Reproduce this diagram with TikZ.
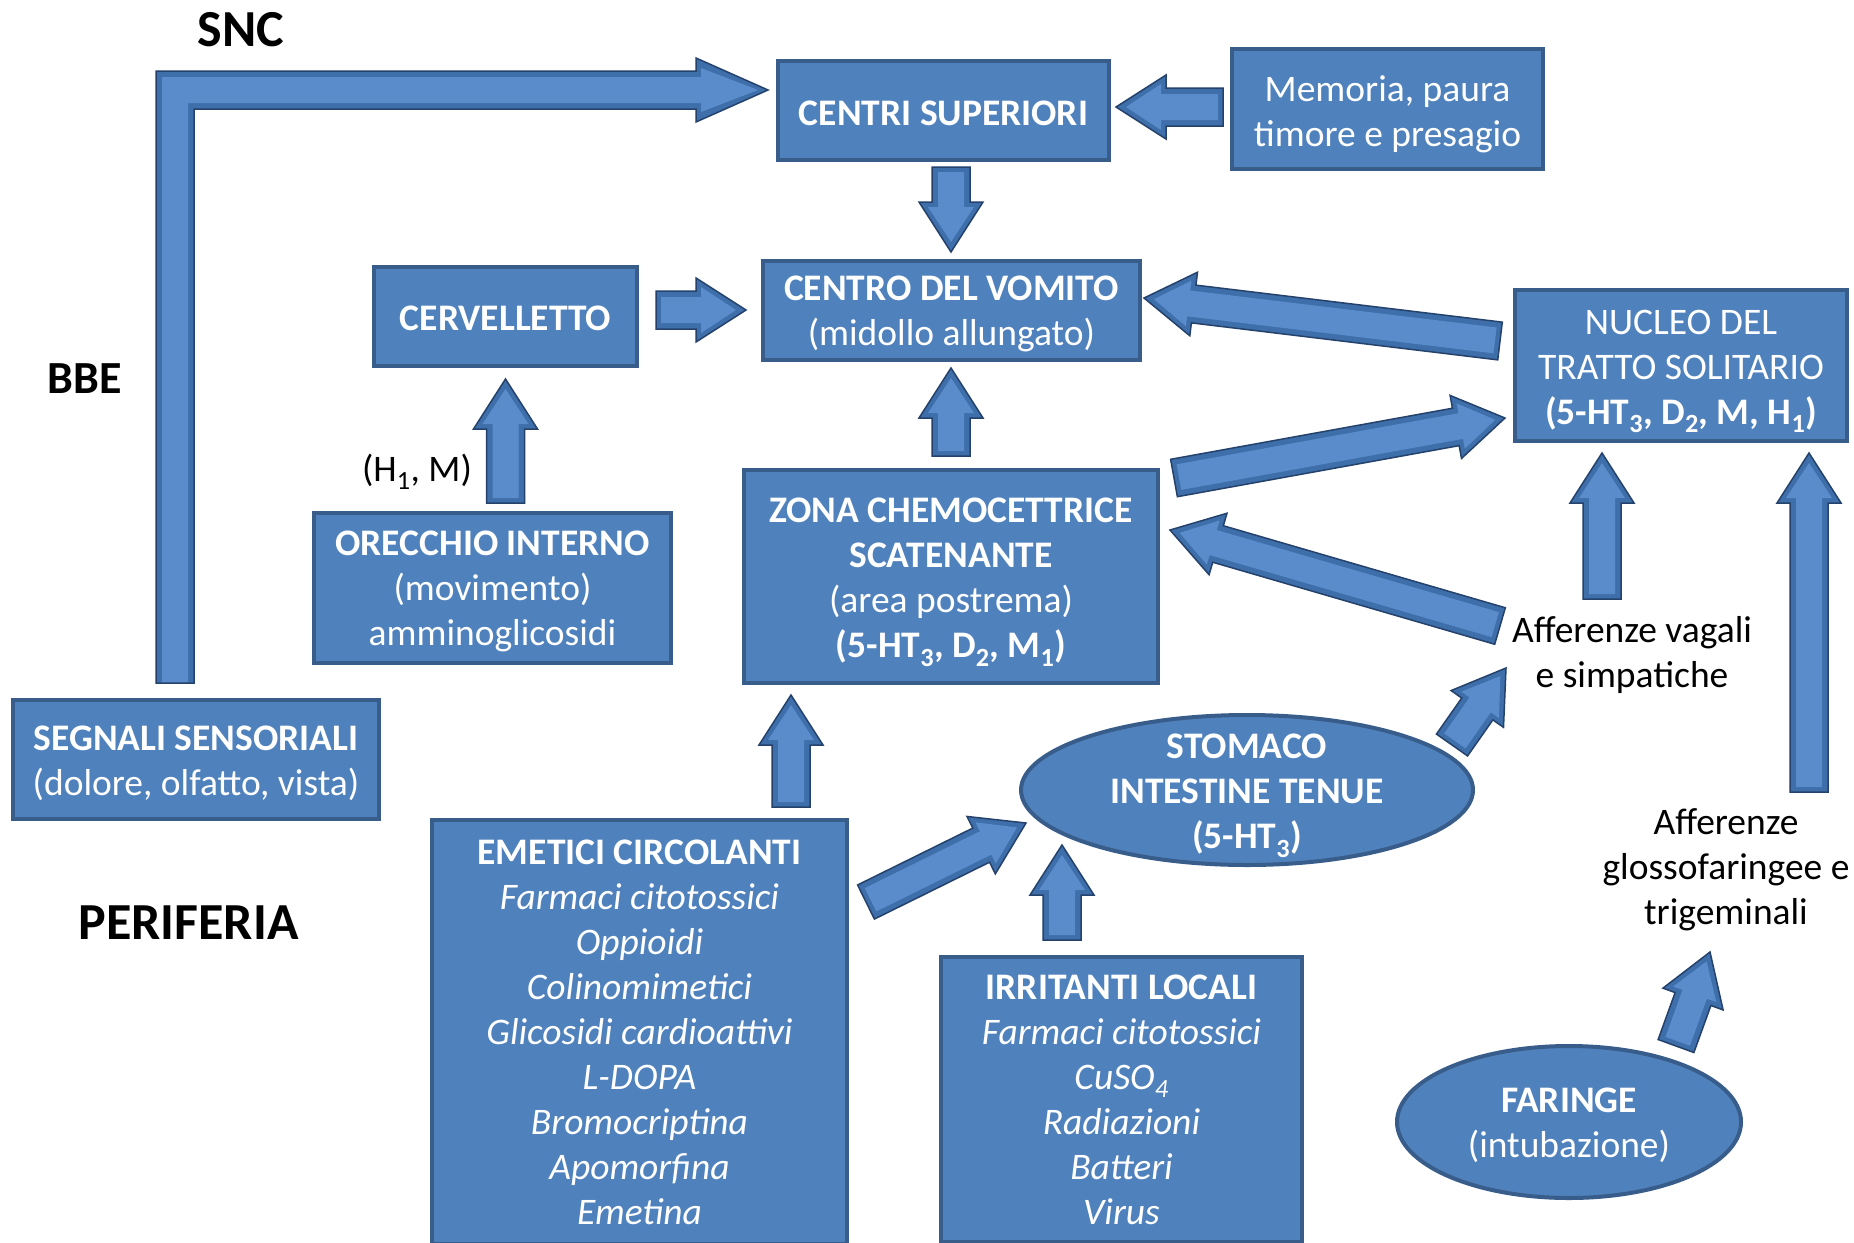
\documentclass[tikz,border=0pt]{standalone}
\usepackage{fontspec}
\setmainfont{Carlito}
\usetikzlibrary{calc}
\definecolor{boxfill}{HTML}{4F81BD}
\definecolor{boxedge}{HTML}{385D8A}
\definecolor{arrfill}{HTML}{3F6FAA}
\definecolor{arrin}{HTML}{5A8CCC}
\definecolor{arredge}{HTML}{24426B}
\newcommand\bx{\fontsize{37.5}{45}\selectfont}
\newcommand\sub[1]{\textsubscript{#1}}
\tikzset{
  box/.style={draw=boxedge, fill=boxfill, line width=4pt, inner sep=0pt},
  ell/.style={draw=boxedge, fill=boxfill, line width=4pt},
  wtxt/.style={text=white, align=center, inner sep=0pt, font=\bx},
  lbl/.style={text=black, align=center, inner sep=0pt, font=\bx},
  big/.style={text=black, inner sep=0pt, font=\fontsize{52}{60}\selectfont\bfseries},
}
\newcommand\blockarrow[2]{%
  \pgfpointdiff{\pgfpointanchor{#1}{center}}{\pgfpointanchor{#2}{center}}%
  \pgfgetlastxy{\bdx}{\bdy}%
  \pgfmathsetmacro\baang{atan2(\bdy,\bdx)}%
  \pgfmathsetmacro\balen{veclen(\bdx,\bdy)}%
  \pgfmathsetmacro\babase{\balen-50}%
  \pgfmathsetmacro\bainb{\balen-45}%
  \pgfmathsetmacro\baint{\balen-10}%
  \begin{scope}[shift={(#1)}, rotate=\baang]
    \fill[arrfill] (0pt,-19pt) -- (\babase pt,-19pt) -- (\babase pt,-32pt) -- (\balen pt,0pt) -- (\babase pt,32pt) -- (\babase pt,19pt) -- (0pt,19pt) -- cycle;
    \fill[arrin] (5pt,-13pt) -- (\bainb pt,-13pt) -- (\bainb pt,-23pt) -- (\baint pt,0pt) -- (\bainb pt,23pt) -- (\bainb pt,13pt) -- (5pt,13pt) -- cycle;
    \draw[arredge, line width=1.5pt, line join=miter] (0pt,-19pt) -- (\babase pt,-19pt) -- (\babase pt,-32pt) -- (\balen pt,0pt) -- (\babase pt,32pt) -- (\babase pt,19pt) -- (0pt,19pt) -- cycle;
  \end{scope}}
\begin{document}
\begin{tikzpicture}[x=1pt,y=-1pt]
\useasboundingbox (0,0) rectangle (1854,1242);
\fill[white] (0,0) rectangle (1854,1242);

% boxes
\node[box, minimum width=331pt, minimum height=99pt] (cs) at (943.5,110.5) {};
\node[wtxt, yshift=-2.5pt] (csT) at (cs.center) {\textbf{CENTRI SUPERIORI}};
\node[box, minimum width=311pt, minimum height=120pt] (mem) at (1387.5,109) {};
\node[wtxt, yshift=-5pt] (memT) at (mem.center) {Memoria, paura\\timore e presagio};
\node[box, minimum width=377pt, minimum height=99pt] (cv) at (951.5,310.5) {};
\node[wtxt, yshift=-3.5pt] (cvT) at (cv.center) {\textbf{CENTRO DEL VOMITO}\\(midollo allungato)};
\node[box, minimum width=263pt, minimum height=99pt] (cer) at (505.5,316.5) {};
\node[wtxt, yshift=-1.5pt] (cerT) at (cer.center) {\textbf{CERVELLETTO}};
\node[box, minimum width=332pt, minimum height=151pt] (nts) at (1681,365.5) {};
\node[wtxt, yshift=-6pt] (ntsT) at (nts.center) {NUCLEO DEL\\TRATTO SOLITARIO\\\textbf{(5-HT\sub{3}, D\sub{2}, M, H\sub{1})}};
\node[box, minimum width=357pt, minimum height=150pt] (oi) at (492.5,588) {};
\node[wtxt, yshift=-3.5pt] (oiT) at (oi.center) {\textbf{ORECCHIO INTERNO}\\(movimento)\\amminoglicosidi};
\node[box, minimum width=414pt, minimum height=213pt] (zc) at (951,576.5) {};
\node[wtxt, yshift=-6pt] (zcT) at (zc.center) {\textbf{ZONA CHEMOCETTRICE}\\\textbf{SCATENANTE}\\(area postrema)\\\textbf{(5-HT\sub{3}, D\sub{2}, M\sub{1})}};
\node[box, minimum width=366pt, minimum height=119pt] (ss) at (196,759.5) {};
\node[wtxt, yshift=-3.5pt] (ssT) at (ss.center) {\textbf{SEGNALI SENSORIALI}\\(dolore, olfatto, vista)};
\node[box, minimum width=415pt, minimum height=424pt] (ec) at (639.5,1032) {};
\node[wtxt] (ecT) at (ec.center) {\textbf{EMETICI CIRCOLANTI}\\\itshape Farmaci citotossici\\\itshape Oppioidi\\\itshape Colinomimetici\\\itshape Glicosidi cardioattivi\\\itshape L-DOPA\\\itshape Bromocriptina\\\itshape Apomorfina\\\itshape Emetina};
\node[box, minimum width=361pt, minimum height=285pt] (il) at (1121.5,1099.5) {};
\node[wtxt] (ilT) at (il.center) {\textbf{IRRITANTI LOCALI}\\\itshape Farmaci citotossici\\\itshape CuSO\sub{4}\\\itshape Radiazioni\\\itshape Batteri\\\itshape Virus};

% ellipses
\coordinate (stc) at (1247,790);
\draw[ell] (stc) ellipse [x radius=226pt, y radius=75pt];
\node[wtxt, yshift=-6pt] (st) at (stc) {\textbf{STOMACO}\\\textbf{INTESTINE TENUE}\\\textbf{(5-HT\sub{3})}};
\coordinate (fac) at (1569,1122);
\draw[ell] (fac) ellipse [x radius=172pt, y radius=76pt];
\node[wtxt, yshift=-3.5pt] (fa) at (fac) {\textbf{FARINGE}\\(intubazione)};

% labels
\node[big] (snc) at (241,30) {SNC};
\node[big, font=\fontsize{46}{54}\selectfont\bfseries] (bbe) at (85,379) {BBE};
\node[big] (per) at (188.5,923) {PERIFERIA};
\node[lbl] (hm) at (417,472) {(H\sub{1}, M)};
\node[lbl] (av) at (1632,655) {Afferenze vagali\\e simpatiche};
\node[lbl] (ag) at (1726,870) {Afferenze\\glossofaringee e\\trigeminali};

% L-shaped arrow from SEGNALI SENSORIALI to CENTRI SUPERIORI
\coordinate (Lstart) at (175,683);
\coordinate (Ltip) at (768,90);
\fill[arrfill] (156,683) -- (156,71) -- (696,71) -- (696,58) -- (Ltip) -- (696,122) -- (696,109) -- (194,109) -- (194,683) -- cycle;
\fill[arrin] (162,683) -- (162,77) -- (701,77) -- (701,68) -- (758,90) -- (701,112) -- (701,103) -- (188,103) -- (188,683) -- cycle;
\draw[arredge, line width=1.5pt, line join=miter] (156,683) -- (156,71) -- (696,71) -- (696,58) -- (Ltip) -- (696,122) -- (696,109) -- (194,109) -- (194,683) -- cycle;

% arrow end coordinates
\coordinate (aBt) at (1223,107);  \coordinate (aBh) at (1116,107);
\coordinate (aCt) at (951,167);   \coordinate (aCh) at (951,252);
\coordinate (aDt) at (656,310);   \coordinate (aDh) at (746,310);
\coordinate (aEt) at (951,456);   \coordinate (aEh) at (951,368);
\coordinate (aFt) at (505.5,503); \coordinate (aFh) at (505.5,379);
\coordinate (aGt) at (1500,341);  \coordinate (aGh) at (1144,298);
\coordinate (aHt) at (1174,478);  \coordinate (aHh) at (1505,418);
\coordinate (aIt) at (1500,626);  \coordinate (aIh) at (1170,530);
\coordinate (aJt) at (1452,745);  \coordinate (aJh) at (1506,668);
\coordinate (aKt) at (1602,599);  \coordinate (aKh) at (1602,453);
\coordinate (aLt) at (1809,792);  \coordinate (aLh) at (1809,453);
\coordinate (aMt) at (1676,1046); \coordinate (aMh) at (1710,952);
\coordinate (aNt) at (791,807);   \coordinate (aNh) at (791,695);
\coordinate (aOt) at (866,902);   \coordinate (aOh) at (1026,823);
\coordinate (aPt) at (1062,940);  \coordinate (aPh) at (1062,845);

\blockarrow{aBt}{aBh}
\blockarrow{aCt}{aCh}
\blockarrow{aDt}{aDh}
\blockarrow{aEt}{aEh}
\blockarrow{aFt}{aFh}
\blockarrow{aGt}{aGh}
\blockarrow{aHt}{aHh}
\blockarrow{aIt}{aIh}
\blockarrow{aJt}{aJh}
\blockarrow{aKt}{aKh}
\blockarrow{aLt}{aLh}
\blockarrow{aMt}{aMh}
\blockarrow{aNt}{aNh}
\blockarrow{aOt}{aOh}
\blockarrow{aPt}{aPh}
\end{tikzpicture}
\end{document}
